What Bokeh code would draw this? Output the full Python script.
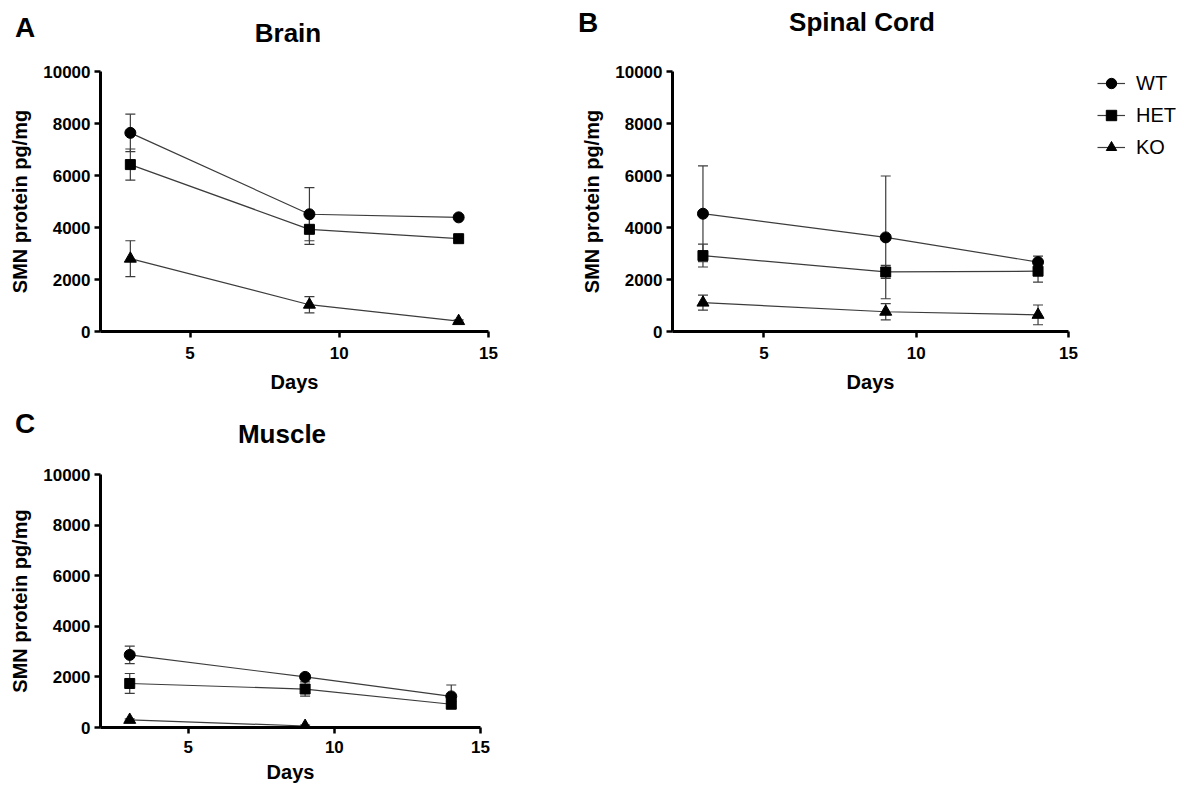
import numpy as np
from bokeh.plotting import figure
from bokeh.models import (Range1d, FixedTicker, Whisker, TeeHead, ColumnDataSource,
                          Legend, LegendItem, Div)
from bokeh.layouts import row, column
from bokeh.embed import file_html
from bokeh.resources import INLINE

# ---------------- data ----------------
days = [3, 9, 14]
groups = ["WT", "HET", "KO"]
x_ticks = [5, 10, 15]
y_ticks = [0, 2000, 4000, 6000, 8000, 10000]

brain_wt = [7640, 4510, 4390]
brain_wt_sd = [720, 1020, 80]
brain_het = [6420, 3930, 3570]
brain_het_sd = [600, 580, 60]
brain_ko = [2800, 1030, 400]
brain_ko_sd = [690, 310, 50]

spinal_wt = [4530, 3620, 2670]
spinal_wt_sd = [1840, 2360, 230]
spinal_het = [2920, 2290, 2320]
spinal_het_sd = [440, 250, 420]
spinal_ko = [1110, 760, 640]
spinal_ko_sd = [290, 315, 380]

muscle_wt = [2870, 2000, 1230]
muscle_wt_sd = [345, 80, 450]
muscle_het = [1740, 1520, 920]
muscle_het_sd = [395, 280, 100]
muscle_ko = [300, 60, float("nan")]
muscle_ko_sd = [40, 30, float("nan")]

FONT = "Liberation Sans"
LINE_COL = "#3c3c3c"
MARKERS = {"WT": ("circle", 11), "HET": ("square", 10), "KO": ("triangle", 12)}


def make_panel(width, height, left, top, fw, fh, bottom_standoffs=(9, 9)):
    p = figure(width=width, height=height,
               x_range=Range1d(2, 15), y_range=Range1d(0, 10000),
               output_backend="svg", toolbar_location=None,
               min_border_left=left, min_border_top=top,
               min_border_right=width - left - fw,
               min_border_bottom=height - top - fh)
    p.xgrid.visible = False
    p.ygrid.visible = False
    p.outline_line_color = None
    p.xaxis.ticker = FixedTicker(ticks=x_ticks)
    p.yaxis.ticker = FixedTicker(ticks=y_ticks)
    p.xaxis.axis_label = "Days"
    p.yaxis.axis_label = "SMN protein pg/mg"
    for ax in (p.xaxis[0], p.yaxis[0]):
        ax.axis_line_width = 3
        ax.axis_line_color = "black"
        ax.major_tick_line_width = 2.5
        ax.major_tick_line_color = "black"
        ax.major_tick_out = 6
        ax.major_tick_in = 0
        ax.minor_tick_line_color = None
        ax.major_label_text_font = FONT
        ax.major_label_text_font_style = "bold"
        ax.major_label_text_font_size = "17px"
        ax.major_label_text_color = "black"
        ax.axis_label_text_font = FONT
        ax.axis_label_text_font_style = "bold"
        ax.axis_label_text_font_size = "20px"
        ax.axis_label_text_color = "black"
    p.yaxis.major_label_standoff = 4
    p.yaxis.axis_label_standoff = 9
    p.xaxis.major_label_standoff = bottom_standoffs[0]
    p.xaxis.axis_label_standoff = bottom_standoffs[1]
    return p


def series_source(y, sd):
    y = np.array(y, dtype=float)
    sd = np.array(sd, dtype=float)
    return ColumnDataSource(dict(x=days, y=y, lo=y - sd, hi=y + sd))


def add_series(p, series):
    srcs = {}
    for g in groups:
        src = series_source(*series[g])
        p.add_layout(Whisker(source=src, base="x", upper="hi", lower="lo",
                             line_color=LINE_COL, line_width=1.2,
                             upper_head=TeeHead(size=10, line_color=LINE_COL, line_width=1.2),
                             lower_head=TeeHead(size=10, line_color=LINE_COL, line_width=1.2)))
        p.line("x", "y", source=src, line_color=LINE_COL, line_width=1.2)
        mk, sz = MARKERS[g]
        p.scatter("x", "y", source=src, marker=mk, size=sz,
                  fill_color="black", line_color="black")
        srcs[g] = src
    return srcs


def header(width, height, items):
    # items: (text, centre x, baseline y, font px)
    parts = []
    for text, cx, base, fs in items:
        top = base - 0.85 * fs
        bw = 2 * cx if cx < 150 else 300
        left = cx - bw / 2
        parts.append(
            f'<div style="position:absolute;left:{left:.1f}px;top:{top:.1f}px;width:{bw}px;'
            f'text-align:center;font-family:\'Liberation Sans\',Arial,sans-serif;'
            f'font-weight:bold;font-size:{fs}px;line-height:1;color:#000;white-space:nowrap;">'
            f'{text}</div>')
    html = (f'<div style="position:relative;width:{width}px;height:{height}px;'
            f'overflow:visible;">' + "".join(parts) + '</div>')
    return Div(text=html, width=width, height=height, margin=0)


H1 = 56
ROW1_H = 400 - H1
head1 = header(1180, H1, [("A", 25, 38, 28), ("Brain", 288, 42, 26),
                          ("B", 588, 33, 28), ("Spinal Cord", 862, 31, 26)])

# ---------------- panel A ----------------
pA = make_panel(568, ROW1_H, 100, 71 - H1, 388, 260)
add_series(pA, {"WT": (brain_wt, brain_wt_sd), "HET": (brain_het, brain_het_sd),
                "KO": (brain_ko, brain_ko_sd)})

# ---------------- panel B ----------------
pB = make_panel(516, ROW1_H, 104, 71 - H1, 396, 260)
srcB = add_series(pB, {"WT": (spinal_wt, spinal_wt_sd), "HET": (spinal_het, spinal_het_sd),
                       "KO": (spinal_ko, spinal_ko_sd)})

# ---------------- legend (beside panel B) ----------------
# the legend's proxy renderers reuse panel B's sources; their points lie outside
# this small figure's (0..1) ranges, so only the legend itself is visible.
pL = figure(width=96, height=ROW1_H, x_range=Range1d(0, 1), y_range=Range1d(0, 1),
            output_backend="svg", toolbar_location=None,
            min_border_left=0, min_border_right=0,
            min_border_top=71 - H1, min_border_bottom=ROW1_H - (71 - H1) - 260)
pL.axis.visible = False
pL.xgrid.visible = False
pL.ygrid.visible = False
pL.outline_line_color = None
items = []
for g in groups:
    lr = pL.line("x", "y", source=srcB[g], line_color=LINE_COL, line_width=1.2)
    mk, sz = MARKERS[g]
    sr = pL.scatter("x", "y", source=srcB[g], marker=mk, size=sz,
                    fill_color="black", line_color="black")
    items.append(LegendItem(label=g, renderers=[lr, sr], index=0))
legend = Legend(items=items, location=(13, 171), orientation="vertical",
                glyph_width=28, glyph_height=26, label_standoff=11, spacing=6,
                padding=0, margin=0, label_height=26,
                label_text_font=FONT, label_text_font_size="20px",
                label_text_color="black",
                background_fill_alpha=0, border_line_alpha=0)
pL.add_layout(legend)

# ---------------- panel C ----------------
H2 = 52
head2 = header(568, H2, [("C", 25, 34, 28), ("Muscle", 282, 43, 26)])
C_top = 400 + H2
pC = make_panel(568, 787 - C_top, 100, 474 - C_top, 380, 253, bottom_standoffs=(7, 5))
add_series(pC, {"WT": (muscle_wt, muscle_wt_sd), "HET": (muscle_het, muscle_het_sd),
                "KO": (muscle_ko, muscle_ko_sd)})

layout = column(head1, row(pA, pB, pL), head2, pC)
open("out.html", "w").write(file_html(layout, INLINE))
